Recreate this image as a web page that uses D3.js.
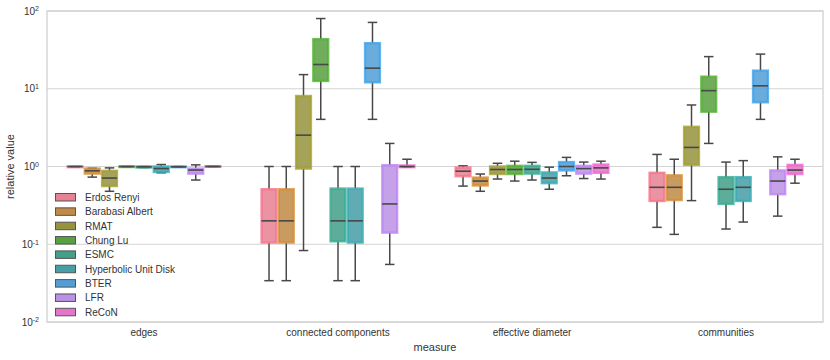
<!DOCTYPE html>
<html>
<head>
<meta charset="utf-8">
<script src="https://cdn.jsdelivr.net/npm/d3@7"></script>
<style>
  body { margin: 0; background: #fff; }
  svg { font-family: "Liberation Sans", Arial, sans-serif; }
  .grid line { stroke: #d4d4d4; stroke-width: 1; }
</style>
</head>
<body>
<div id="chart"></div>
<script>
// measures on the x axis
var measures = ['edges', 'connected components', 'effective diameter', 'communities'];

// one box per generator, in hue order
var models = ['Erdos Renyi', 'Barabasi Albert', 'RMAT', 'Chung Lu', 'ESMC',
              'Hyperbolic Unit Disk', 'BTER', 'LFR', 'ReCoN'];

// husl-ish palette, one per model
var colors = ['#f77189', '#d58c32', '#a4a031', '#50b131', '#34ae91',
              '#37abb5', '#3ba3ec', '#bb83f4', '#f564d4'];

// [whisker low, q1, median, q3, whisker high]
var edges = [
  [0.98, 0.98, 1.0, 1.0, 1.0],
  [0.73, 0.81, 0.88, 0.94, 0.95],
  [0.48, 0.56, 0.71, 0.88, 0.96],
  [0.99, 0.99, 1.0, 1.0, 1.0],
  [0.97, 0.97, 0.99, 1.0, 1.0],
  [0.83, 0.85, 0.94, 1.0, 1.06],
  [0.98, 0.98, 0.99, 1.0, 1.0],
  [0.67, 0.81, 0.9, 0.94, 1.05],
  [0.99, 0.99, 1.0, 1.01, 1.01]
];
var connectedComponents = [
  [0.034, 0.105, 0.2, 0.51, 1.0],
  [0.034, 0.105, 0.2, 0.51, 1.0],
  [0.083, 0.94, 2.53, 8.07, 15.2],
  [4.04, 12.6, 20.5, 43.5, 80],
  [0.034, 0.109, 0.2, 0.52, 1.0],
  [0.034, 0.105, 0.2, 0.52, 1.0],
  [4.04, 12.1, 18.4, 38.6, 71.3],
  [0.055, 0.141, 0.33, 1.04, 1.98],
  [0.98, 0.98, 1.0, 1.03, 1.24]
];
var effectiveDiameter = [
  [0.56, 0.75, 0.87, 0.97, 1.02],
  [0.48, 0.57, 0.65, 0.72, 0.80],
  [0.69, 0.80, 0.915, 1.0, 1.10],
  [0.65, 0.80, 0.915, 1.02, 1.17],
  [0.67, 0.81, 0.92, 1.02, 1.13],
  [0.51, 0.61, 0.71, 0.84, 0.98],
  [0.76, 0.89, 1.0, 1.14, 1.31],
  [0.70, 0.81, 0.94, 1.02, 1.14],
  [0.69, 0.83, 0.96, 1.06, 1.17]
];
var communities = [
  [0.165, 0.36, 0.54, 0.83, 1.43],
  [0.134, 0.37, 0.54, 0.77, 1.24],
  [0.364, 1.05, 1.76, 3.24, 6.18],
  [1.98, 5.07, 9.45, 14.3, 25.9],
  [0.157, 0.33, 0.51, 0.73, 1.14],
  [0.193, 0.36, 0.54, 0.73, 1.19],
  [4.04, 6.7, 10.9, 17.1, 27.9],
  [0.23, 0.44, 0.65, 0.89, 1.33],
  [0.61, 0.80, 0.90, 1.05, 1.24]
];

var yTicks = [0.01, 0.1, 1, 10, 100];

var stats = [edges, connectedComponents, effectiveDiameter, communities];

var width = 830, height = 360;
var margin = {top: 11, right: 7, bottom: 38, left: 47};

var svg = d3.select('#chart').append('svg')
  .attr('width', width)
  .attr('height', height);

var x = d3.scaleBand()
  .domain(measures)
  .range([margin.left, width - margin.right]);

var hue = d3.scaleBand()
  .domain(models)
  .range([x.bandwidth() * 0.1, x.bandwidth() * 0.9]);

var y = d3.scaleLog()
  .domain([0.01, 100])
  .range([height - margin.bottom, margin.top]);

var color = d3.scaleOrdinal().domain(models).range(colors);

// seaborn-style desaturation for the face colour
var desat = c => { var h = d3.hsl(c); h.s *= 0.75; return h.formatHex(); };

// grid
svg.append('g')
  .attr('class', 'grid')
  .selectAll('line')
  .data(yTicks)
  .enter().append('line')
    .attr('x1', margin.left).attr('x2', width - margin.right)
    .attr('y1', d => y(d)).attr('y2', d => y(d));

// legend sits under the boxes
var legend = svg.append('g').attr('transform', 'translate(55,197.5)');
var li = legend.selectAll('g')
  .data(models)
  .enter().append('g')
    .attr('transform', (d, i) => 'translate(0,' + (i * 14.35) + ')');
li.append('rect')
  .attr('x', 0.5).attr('y', -4)
  .attr('width', 20).attr('height', 7.5)
  .attr('fill', d => desat(color(d)))
  .attr('stroke', '#555')
  .attr('stroke-width', 1);
li.append('text')
  .attr('x', 30).attr('y', 0)
  .attr('dy', '0.35em')
  .attr('font-size', 10)
  .attr('fill', '#333')
  .text(d => d);

// boxes
var flat = [];
measures.forEach((m, mi) => {
  models.forEach((g, gi) => {
    var s = stats[mi][gi];
    flat.push({measure: m, model: g, lo: s[0], q1: s[1], med: s[2], q3: s[3], hi: s[4]});
  });
});

var bw = hue.bandwidth();
var sw = 2.4;
var capW = bw * 0.55;

var box = svg.append('g')
  .selectAll('g')
  .data(flat)
  .enter().append('g')
    .attr('transform', d => 'translate(' + (x(d.measure) + hue(d.model) + bw / 2) + ',0)');

box.append('line')
  .attr('y1', d => y(d.q3)).attr('y2', d => y(d.hi))
  .attr('stroke', '#484848').attr('stroke-width', 1.5);
box.append('line')
  .attr('y1', d => y(d.q1)).attr('y2', d => y(d.lo))
  .attr('stroke', '#484848').attr('stroke-width', 1.5);
box.append('line')
  .attr('x1', -capW / 2).attr('x2', capW / 2)
  .attr('y1', d => y(d.hi)).attr('y2', d => y(d.hi))
  .attr('stroke', '#484848').attr('stroke-width', 1.5);
box.append('line')
  .attr('x1', -capW / 2).attr('x2', capW / 2)
  .attr('y1', d => y(d.lo)).attr('y2', d => y(d.lo))
  .attr('stroke', '#484848').attr('stroke-width', 1.5);

box.append('rect')
  .attr('x', -bw / 2 + sw / 2)
  .attr('width', bw - sw)
  .attr('y', d => y(d.q3))
  .attr('height', d => Math.max(0.5, y(d.q1) - y(d.q3)))
  .attr('fill', d => desat(color(d.model)))
  .attr('fill-opacity', 0.86)
  .attr('stroke', d => color(d.model))
  .attr('stroke-opacity', 0.8)
  .attr('stroke-width', sw);

box.append('line')
  .attr('x1', -bw / 2 + 1).attr('x2', bw / 2 - 1)
  .attr('y1', d => y(d.med)).attr('y2', d => y(d.med))
  .attr('stroke', '#484848').attr('stroke-width', 1.6);

// frame
svg.append('rect')
  .attr('x', margin.left).attr('y', margin.top)
  .attr('width', width - margin.left - margin.right)
  .attr('height', height - margin.top - margin.bottom)
  .attr('fill', 'none')
  .attr('stroke', '#cfcfcf')
  .attr('stroke-width', 1.25);

// y tick labels as 10^n
var yl = svg.append('g')
  .selectAll('text')
  .data(yTicks)
  .enter().append('text')
    .attr('x', 39)
    .attr('y', d => y(d))
    .attr('dy', '0.35em')
    .attr('text-anchor', 'end')
    .attr('font-size', 10)
    .attr('fill', '#333');
yl.append('tspan').text('10');
yl.append('tspan')
  .attr('dy', '-0.45em')
  .attr('font-size', 7)
  .text(d => Math.round(Math.log10(d)));

// x tick labels
svg.append('g')
  .selectAll('text')
  .data(measures)
  .enter().append('text')
    .attr('x', d => x(d) + x.bandwidth() / 2)
    .attr('y', 336)
    .attr('text-anchor', 'middle')
    .attr('font-size', 10)
    .attr('fill', '#333')
    .text(d => d);

svg.append('text')
  .attr('x', margin.left + (width - margin.left - margin.right) / 2)
  .attr('y', 351)
  .attr('text-anchor', 'middle')
  .attr('font-size', 11)
  .attr('fill', '#333')
  .text('measure');

svg.append('text')
  .attr('transform', 'translate(14,' + ((margin.top + height - margin.bottom) / 2) + ') rotate(-90)')
  .attr('text-anchor', 'middle')
  .attr('font-size', 11)
  .attr('fill', '#333')
  .text('relative value');
</script>
</body>
</html>
